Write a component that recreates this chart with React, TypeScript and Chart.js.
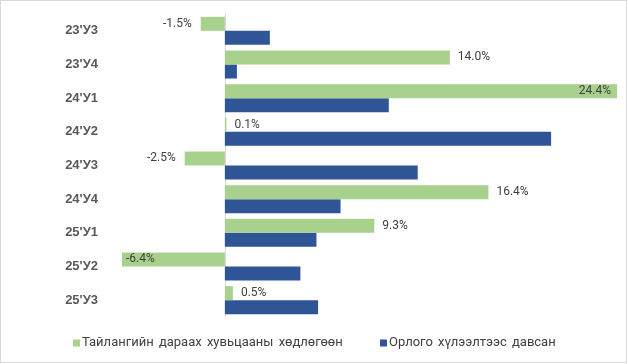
import React, { useEffect, useRef } from "react";
import { Chart, registerables } from "chart.js";

Chart.register(...registerables);

const categories = ["23'У3", "23'У4", "24'У1", "24'У2", "24'У3", "24'У4", "25'У1", "25'У2", "25'У3"];
const seriesNames = ["Тайлангийн дараах хувьцааны хөдлөгөөн", "Орлого хүлээлтээс давсан"];
const greenValues = [-1.5, 14.0, 24.4, 0.1, -2.5, 16.4, 9.3, -6.4, 0.5];
const blueValues = [2.8, 0.75, 10.2, 20.3, 12.0, 7.2, 5.7, 4.7, 5.8];
const colors = ["#a9d18e", "#2f5597"];
const xMin = -6.4;
const xMax = 24.4;

const LABEL_FONT = "12px Roboto";
const LEGEND_FONT = "13px Roboto";

const decorPlugin = {
  id: "decor",
  beforeDraw(chart: any) {
    const ctx = chart.ctx;
    ctx.save();
    ctx.fillStyle = "#ffffff";
    ctx.fillRect(0, 0, chart.width, chart.height);
    ctx.strokeStyle = "#d9d9d9";
    ctx.lineWidth = 1;
    ctx.strokeRect(0.5, 0.5, 626, 362);
    ctx.restore();
  },
  beforeDatasetsDraw(chart: any) {
    const ctx = chart.ctx;
    const x = Math.round(chart.scales.x.getPixelForValue(0)) + 0.5;
    const area = chart.chartArea;
    ctx.save();
    ctx.strokeStyle = "#d9d9d9";
    ctx.lineWidth = 1;
    ctx.beginPath();
    ctx.moveTo(x, area.top);
    ctx.lineTo(x, area.bottom);
    ctx.stroke();
    ctx.restore();
  },
  afterDatasetsDraw(chart: any) {
    const ctx = chart.ctx;
    const area = chart.chartArea;
    const meta = chart.getDatasetMeta(0);
    ctx.save();
    ctx.font = LABEL_FONT;
    ctx.fillStyle = "#404040";
    ctx.textBaseline = "middle";
    meta.data.forEach((bar: any, i: number) => {
      const v = greenValues[i];
      const text = v.toFixed(1) + "%";
      const w = ctx.measureText(text).width;
      const y = bar.y;
      if (v >= 0) {
        const tx = bar.x + 8;
        if (tx + w > area.right) {
          ctx.textAlign = "right";
          ctx.fillText(text, bar.x - 6, y);
        } else {
          ctx.textAlign = "left";
          ctx.fillText(text, tx, y);
        }
      } else {
        const tx = bar.x - 9;
        if (tx - w < area.left) {
          ctx.textAlign = "left";
          ctx.fillText(text, bar.x + 4, y);
        } else {
          ctx.textAlign = "right";
          ctx.fillText(text, tx, y);
        }
      }
    });
    // legend
    ctx.font = LEGEND_FONT;
    try {
      (ctx as any).wordSpacing = "2px";
    } catch (e) {}
    ctx.textAlign = "left";
    ctx.textBaseline = "middle";
    const ly = 343;
    const items = [
      { sx: 73, tx: 82 },
      { sx: 380, tx: 389 },
    ];
    items.forEach((it, k) => {
      ctx.fillStyle = colors[k];
      ctx.fillRect(it.sx, ly - 3.5, 7, 7);
      ctx.fillStyle = "#404040";
      ctx.fillText(seriesNames[k], it.tx, ly);
    });
    ctx.restore();
  },
};

export default function App() {
  const ref = useRef<HTMLCanvasElement>(null);
  useEffect(() => {
    const chart = new Chart(ref.current as HTMLCanvasElement, {
      type: "bar",
      data: {
        labels: categories,
        datasets: [
          {
            label: seriesNames[0],
            data: greenValues,
            backgroundColor: colors[0],
            categoryPercentage: 0.833,
            barPercentage: 1,
          },
          {
            label: seriesNames[1],
            data: blueValues,
            backgroundColor: colors[1],
            categoryPercentage: 0.833,
            barPercentage: 1,
          },
        ],
      },
      options: {
        indexAxis: "y",
        animation: false,
        responsive: false,
        layout: { padding: { left: 0, right: 11, top: 14, bottom: 47 } },
        plugins: { legend: { display: false }, tooltip: { enabled: false } },
        scales: {
          x: {
            display: false,
            min: xMin,
            max: xMax,
          },
          y: {
            grid: { display: false, drawTicks: false },
            border: { display: false },
            ticks: {
              padding: 24,
              color: "#595959",
              font: { family: "Liberation Sans", size: 13, weight: "bold" },
            },
            afterFit: (scale: any) => {
              scale.width = 122;
              scale.paddingTop = 0;
              scale.paddingBottom = 0;
            },
          },
        },
      },
      plugins: [decorPlugin],
    } as any);
    return () => chart.destroy();
  }, []);
  return (
    <div style={{ position: "fixed", left: 0, top: 0, width: 628, height: 364 }}>
      <canvas ref={ref} width={628} height={364} />
    </div>
  );
}
